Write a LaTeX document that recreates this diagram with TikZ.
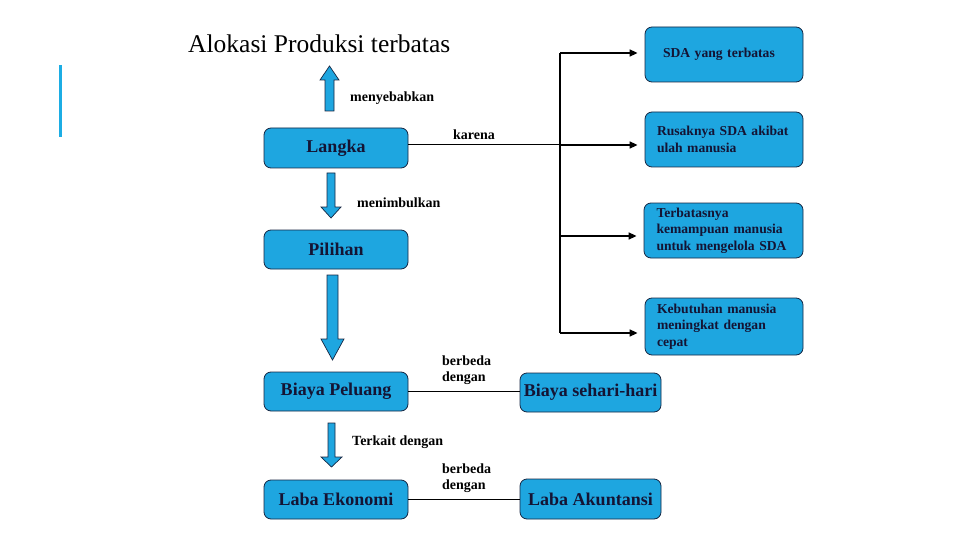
\documentclass[tikz,border=0pt]{standalone}
\usepackage{fontspec}
\setmainfont{Liberation Serif}
\usetikzlibrary{arrows.meta}
\definecolor{boxblue}{RGB}{30,166,224}
\definecolor{boxedge}{RGB}{22,38,66}
\definecolor{boxtext}{RGB}{20,20,52}
\definecolor{barblue}{RGB}{28,173,228}
\tikzset{
  bigbox/.style={draw=boxedge, line width=0.8pt, fill=boxblue, rounded corners=7pt,
    minimum width=144pt, minimum height=39pt, inner sep=0pt, text=boxtext,
    font=\fontsize{18}{21}\selectfont\bfseries},
  sidebox/.style={draw=boxedge, line width=0.8pt, fill=boxblue, rounded corners=7pt,
    minimum width=158pt, minimum height=55pt, inner xsep=9pt, inner ysep=0pt,
    text width=140pt, align=left, text=boxtext,
    execute at begin node={\hyphenpenalty=10000\exhyphenpenalty=10000\leftskip=3pt},
    font=\fontsize{13.6}{16.5}\selectfont\bfseries},
  lbl/.style={inner sep=0pt, anchor=west, align=left,
    font=\fontsize{14}{16.5}\selectfont\bfseries},
  barrow/.style={draw=boxedge, line width=0.7pt, fill=boxblue},
  tree/.style={line width=1.5pt, draw=black},
  treearrow/.style={tree, -{Triangle[length=8pt,width=7pt]}, shorten >=7pt},
  thinline/.style={line width=1pt, draw=black}
}
\begin{document}
\begin{tikzpicture}[x=1pt,y=-1pt]
\useasboundingbox (0,0) rectangle (960,540);
% left accent bar
\fill[barblue] (59,65) rectangle (62,137);
% title
\node[anchor=base west, inner sep=0pt, font=\fontsize{25.5}{29}\selectfont] (title) at (188,53) {Alokasi Produksi terbatas};
% left column boxes
\node[bigbox, minimum height=40pt] (langka) at (336,148) {Langka};
\node[bigbox] (pilihan) at (336,249.5) {Pilihan};
\node[bigbox] (peluang) at (336,391.5) {Biaya Peluang};
\node[bigbox] (ekonomi) at (336,499.5) {Laba Ekonomi};
% middle boxes
\node[bigbox, minimum width=141pt] (sehari) at (590.5,392.5) {Biaya sehari-hari};
\node[bigbox, minimum width=141pt, minimum height=40pt] (akuntansi) at (590.5,499) {Laba Akuntansi};
% right column boxes
\node[sidebox] (sda) at (724,54.5) {\hspace*{6pt}SDA yang terbatas};
\node[sidebox] (rusak) at (724,139.5) {Rusaknya SDA akibat\\ulah manusia};
\node[sidebox, minimum width=159pt] (terb) at (723.5,230.5) {Terbatasnya\\kemampuan manusia\\untuk mengelola SDA};
\node[sidebox, minimum height=57pt] (keb) at (724,326.5) {Kebutuhan manusia\\meningkat dengan\\cepat};
% block arrows
\draw[barrow] (325,111) -- (325,80) -- (320,80) -- (329.5,66) -- (339,80) -- (334,80) -- (334,111) -- cycle;
\draw[barrow] (327,173) -- (335,173) -- (335,207) -- (341,207) -- (331,218) -- (321,207) -- (327,207) -- cycle;
\draw[barrow] (327,275) -- (338,275) -- (338,339) -- (344,339) -- (332.5,360) -- (321,339) -- (327,339) -- cycle;
\draw[barrow] (328,423) -- (335,423) -- (335,457) -- (342,457) -- (331.5,467) -- (321,457) -- (328,457) -- cycle;
% labels
\node[lbl] (l1) at (350,98) {menyebabkan};
\node[lbl] (l2) at (357,203) {menimbulkan};
\node[lbl] (l3) at (352,442) {Terkait dengan};
\node[lbl] (l4) at (453,135) {karena};
\node[lbl] (l5) at (442,370) {berbeda\\dengan};
\node[lbl] (l6) at (442,478) {berbeda\\dengan};
% tree connectors
\coordinate (j1) at (560,53);
\coordinate (j2) at (560,145);
\coordinate (j3) at (560,236);
\coordinate (j4) at (560,333);
\draw[tree] (j1) -- (j4);
\draw[treearrow] (j1) -- (j1 -| sda.west);
\draw[thinline] ([yshift=3pt]langka.east) -- (j2);
\draw[treearrow] (j2) -- (j2 -| rusak.west);
\draw[treearrow] (j3) -- (j3 -| terb.west);
\draw[treearrow] (j4) -- (j4 -| keb.west);
% berbeda lines
\draw[thinline] (peluang.east) -- (peluang.east -| sehari.west);
\draw[thinline] (ekonomi.east) -- (ekonomi.east -| akuntansi.west);
\end{tikzpicture}
\end{document}
